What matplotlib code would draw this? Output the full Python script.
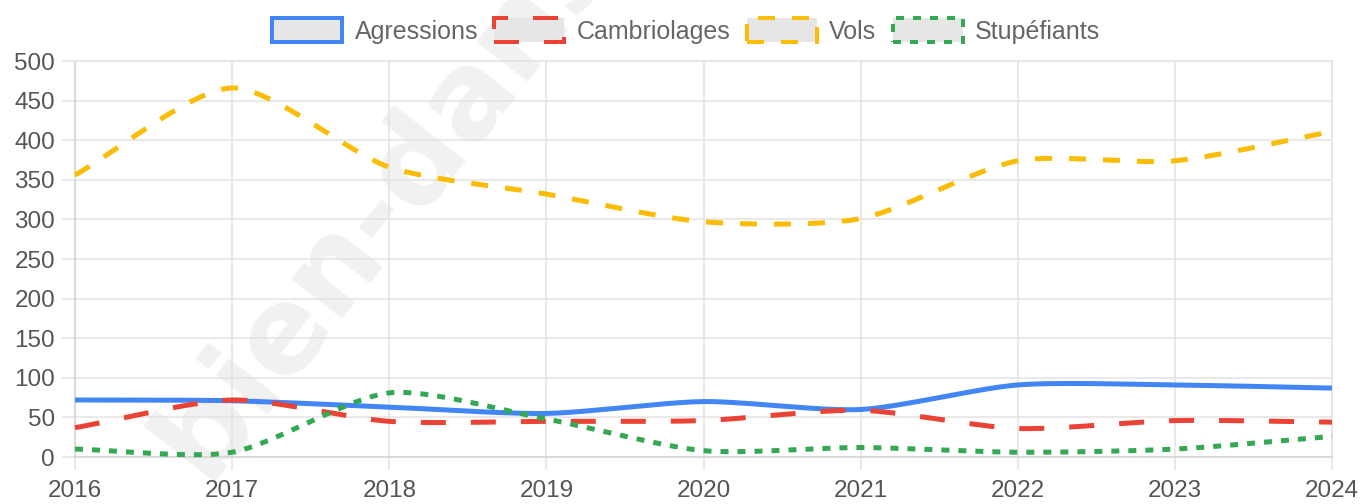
#!/usr/bin/env python3
"""
Délinquance par année (2016-2024) - courbes lissées façon Chart.js
"""
import numpy as np
import matplotlib
matplotlib.use("Agg")
import matplotlib.pyplot as plt
from matplotlib.patches import Rectangle

# Data
years = [2016, 2017, 2018, 2019, 2020, 2021, 2022, 2023, 2024]
agressions = [72, 71, 63, 55, 70, 60, 91, 91, 87]
cambriolages = [37, 72, 45, 45, 46, 59, 36, 46, 44]
vols = [356, 466, 366, 332, 297, 301, 374, 374, 411]
stupefiants = [10, 6, 81, 48, 8, 12, 6, 10, 26]

series_names = ["Agressions", "Cambriolages", "Vols", "Stupéfiants"]
colors = ["#4285F4", "#EA4335", "#FBBC05", "#34A853"]

W, H, DPI = 1367, 504, 100
PX = 72.0 / DPI  # points per pixel

plt.rcParams["font.family"] = ["Liberation Sans", "DejaVu Sans"]
plt.rcParams["lines.scale_dashes"] = False


def spline_path(xs, ys, sx, sy, tension=0.25, n=40):
    # same control-point rule as Chart.js splineCurve, distances in pixels
    px = np.array(xs, float) * sx
    py = np.array(ys, float) * sy
    k = len(px)
    prev_cp, next_cp = [], []
    for i in range(k):
        a = max(i - 1, 0)
        b = min(i + 1, k - 1)
        d01 = np.hypot(px[i] - px[a], py[i] - py[a])
        d12 = np.hypot(px[b] - px[i], py[b] - py[i])
        tot = d01 + d12
        s01 = d01 / tot if tot else 0
        s12 = d12 / tot if tot else 0
        fa, fb = tension * s01, tension * s12
        dx, dy = px[b] - px[a], py[b] - py[a]
        prev_cp.append((px[i] - fa * dx, py[i] - fa * dy))
        next_cp.append((px[i] + fb * dx, py[i] + fb * dy))
    t = np.linspace(0, 1, n)[:, None]
    out = []
    for i in range(k - 1):
        p0 = np.array([px[i], py[i]])
        p1 = np.array(next_cp[i])
        p2 = np.array(prev_cp[i + 1])
        p3 = np.array([px[i + 1], py[i + 1]])
        seg = ((1 - t) ** 3) * p0 + 3 * ((1 - t) ** 2) * t * p1 + 3 * (1 - t) * t ** 2 * p2 + t ** 3 * p3
        out.append(seg if i == 0 else seg[1:])
    out = np.vstack(out)
    return out[:, 0] / sx, out[:, 1] / sy


fig = plt.figure(figsize=(W / DPI, H / DPI), dpi=DPI)

# watermark behind everything
fig.text(205 / W, 1 - 482 / H, "bien-dans-ma-ville.fr", fontsize=86, fontweight="bold",
         family="DejaVu Sans", color="#f1f1f1", rotation=52, rotation_mode="anchor",
         ha="left", va="baseline", zorder=-5)

left, right, top, bottom = 75, 1332, 61, 457
ax = fig.add_axes([left / W, 1 - bottom / H, (right - left) / W, (bottom - top) / H])
ax.set_facecolor("none")

sx = (right - left) / (years[-1] - years[0])
sy = (bottom - top) / 500.0

dashes = [None, (25 * PX, 25 * PX), (17 * PX, 17 * PX), (8 * PX, 9 * PX)]
data = [agressions, cambriolages, vols, stupefiants]
lw = 5 * PX
for vals, col, dsh, name in zip(data, colors, dashes, series_names):
    xs, ys = spline_path(years, vals, sx, sy)
    ln, = ax.plot(xs, ys, color=col, lw=lw, label=name, clip_on=False,
                  solid_capstyle="butt", dash_capstyle="butt", zorder=3)
    if dsh is not None:
        ln.set_dashes(dsh)

ax.set_xlim(years[0], years[-1])
ax.set_ylim(0, 500)
ax.set_xticks(years)
ax.set_yticks(np.arange(0, 501, 50))
grid_c = "#e2e2e2"
ax.grid(True, color=grid_c, lw=1.5 * PX)
for s in ax.spines.values():
    s.set_color(grid_c)
    s.set_linewidth(1.5 * PX)
ax.spines["left"].set_color("#d2d2d2")
ax.spines["bottom"].set_color("#d2d2d2")
ax.tick_params(axis="both", length=13 * PX, width=1.5 * PX, color=grid_c,
               labelsize=17.5, labelcolor="#555555")
ax.tick_params(axis="y", pad=5)
ax.tick_params(axis="x", pad=7)
ax.set_axisbelow(True)

# legend: grey boxes outlined in each series style
handles = []
for col, dsh in zip(colors, dashes):
    r = Rectangle((0, 0), 1, 1, facecolor="#e6e6e6", edgecolor=col, lw=4 * PX)
    if dsh is not None:
        r.set_linestyle((0, dsh))
    handles.append(r)
leg = fig.legend(handles, series_names, loc="center", bbox_to_anchor=(0.502, 1 - 31 / H),
                 ncol=4, frameon=False, fontsize=18, handlelength=2.8, handleheight=1.1,
                 handletextpad=0.5, columnspacing=0.65, borderpad=0)
for t in leg.get_texts():
    t.set_color("#666666")

fig.savefig("out.png", dpi=DPI)
